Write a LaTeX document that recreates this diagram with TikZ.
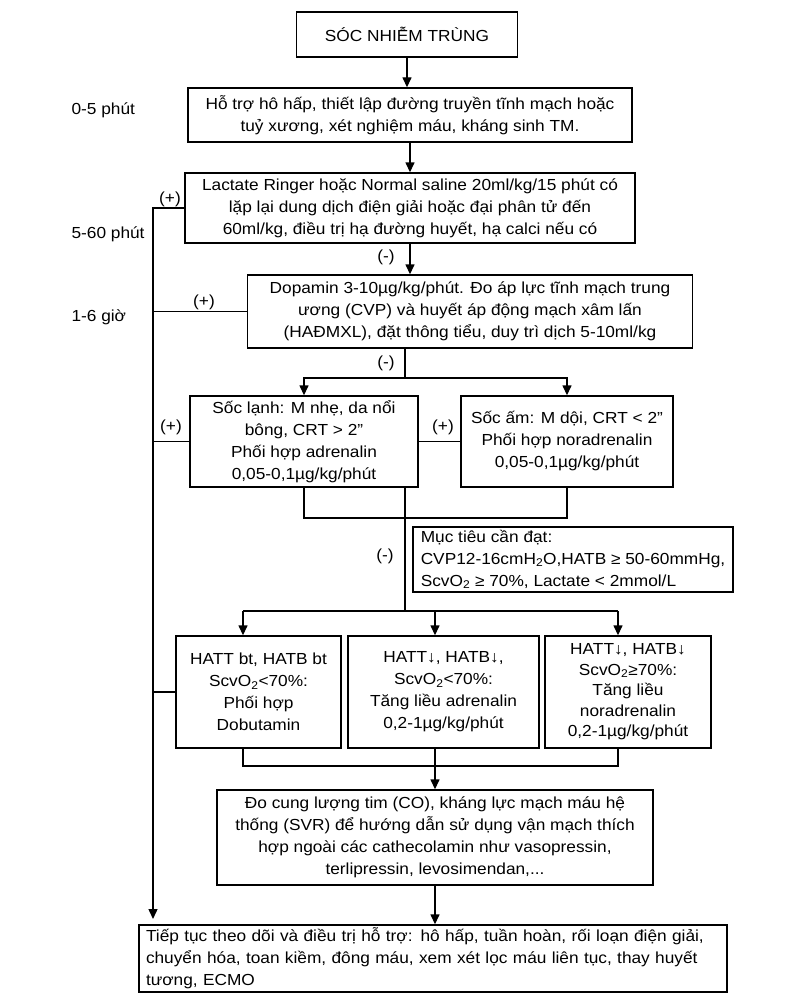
\documentclass[tikz,border=0pt]{standalone}
\usepackage{fontspec}
\setmainfont{Liberation Sans}[FakeStretch=1.08]
\usetikzlibrary{calc}
\usetikzlibrary{arrows.meta}

\begin{document}
\begin{tikzpicture}[x=1pt, y=-1pt,
        every node/.style={font=\fontsize{16}{22}\selectfont},
        box/.style={rectangle, draw=black, line width=1.4pt, align=center, inner sep=0pt},
        arr/.style={line width=1.4pt, -{Triangle[length=10pt, width=9pt]}},
        link/.style={line width=1.4pt}]
    \useasboundingbox (0, 0) rectangle (797, 1006);

    % boxes
    \node[box, minimum width=221, minimum height=45] (sepsis) at (407, 34.5) {SÓC NHIỄM TRÙNG};
    \node[box, minimum width=444, minimum height=54] (support) at (410, 115)
        {Hỗ trợ hô hấp, thiết lập đường truyền tĩnh mạch hoặc\\tuỷ xương, xét nghiệm máu, kháng sinh TM.};
    \node[box, minimum width=450, minimum height=70] (fluid) at (410, 208)
        {Lactate Ringer hoặc Normal saline 20ml/kg/15 phút có\\lặp lại dung dịch điện giải hoặc đại phân tử đến\\60ml/kg, điều trị hạ đường huyết, hạ calci nếu có};
    \node[box, minimum width=445, minimum height=73] (dopamin) at (470, 311.5)
        {Dopamin 3-10µg/kg/phút. Đo áp lực tĩnh mạch trung\\ương (CVP) và huyết áp động mạch xâm lấn\\(HAĐMXL), đặt thông tiểu, duy trì dịch 5-10ml/kg};
    \node[box, minimum width=228, minimum height=91] (cold) at (304, 441.5)
        {Sốc lạnh: M nhẹ, da nổi\\bông, CRT > 2”\\Phối hợp adrenalin\\0,05-0,1µg/kg/phút};
    \node[box, minimum width=212, minimum height=91] (warm) at (567, 441.5)
        {Sốc ấm: M dội, CRT < 2”\\Phối hợp noradrenalin\\0,05-0,1µg/kg/phút};
    \node[box, align=left, minimum width=320, minimum height=65] (target) at (573, 559.5)
        {Mục tiêu cần đạt:\\CVP12-16cmH\textsubscript{2}O,HATB ≥ 50-60mmHg,\\ScvO\textsubscript{2} ≥ 70\%, Lactate < 2mmol/L};
    \node[box, minimum width=165, minimum height=112] (dobut) at (258.5, 692)
        {HATT bt, HATB bt\\ScvO\textsubscript{2}<70\%:\\Phối hợp\\Dobutamin};
    \node[box, minimum width=191, minimum height=112] (adren) at (443.5, 692)
        {HATT↓, HATB↓,\\ScvO\textsubscript{2}<70\%:\\Tăng liều adrenalin\\0,2-1µg/kg/phút};
    \node[box, minimum width=166, minimum height=112, font=\fontsize{16}{20.5}\selectfont] (noradr) at (628, 692)
        {HATT↓, HATB↓\\ScvO\textsubscript{2}≥70\%:\\Tăng liều\\noradrenalin\\0,2-1µg/kg/phút};
    \node[box, minimum width=436, minimum height=95] (monitor) at (435, 837.5)
        {Đo cung lượng tim (CO), kháng lực mạch máu hệ\\thống (SVR) để hướng dẫn sử dụng vận mạch thích\\hợp ngoài các cathecolamin như vasopressin,\\terlipressin, levosimendan,...};
    \node[box, align=left, text width=574, inner xsep=7, minimum height=67] (final) at (433, 958.5)
        {\makebox[574pt][s]{Tiếp tục theo dõi và điều trị hỗ trợ: hô hấp, tuần hoàn, rối loạn điện giải,}\\
         \makebox[574pt][s]{chuyển hóa, toan kiềm, đông máu, xem xét lọc máu liên tục, thay huyết}\\
         tương, ECMO};

    % time labels
    \node[anchor=west] (t1) at (68, 110) {0-5 phút};
    \node[anchor=west] (t2) at (68, 234) {5-60 phút};
    \node[anchor=west] (t3) at (68, 317) {1-6 giờ};

    % signs
    \node (plus1) at (170, 199) {(+)};
    \node (plus2) at (204, 302) {(+)};
    \node (plus3) at (171, 427) {(+)};
    \node (plus4) at (443, 427) {(+)};
    \node (minus1) at (386, 257) {(-)};
    \node (minus2) at (386, 363) {(-)};
    \node (minus3) at (385, 556) {(-)};

    \coordinate (split1) at (405, 378);
    \coordinate (merge1) at (405, 518);
    \coordinate (split2) at (405, 611);
    \coordinate (c1) at (243, 611);
    \coordinate (c2) at (435, 766);
    \coordinate (c3) at (618, 611);
    \coordinate (railend) at (153, 919);

    % main line
    \draw[arr] (sepsis.south) -- (sepsis.south |- support.north);
    \draw[arr] (support.south) -- (support.south |- fluid.north);
    \draw[arr] (fluid.south) -- (fluid.south |- dopamin.north);
    \draw[link] (split1 |- dopamin.south) -- (split1);
    \draw[arr] (split1) -| (cold.north);
    \draw[arr] (split1) -| (warm.north);
    \draw[link] (cold.south) |- (merge1) -| (warm.south);
    \draw[link] (split2 |- cold.south) -- (split2);
    \draw[link] (c1) -- (c3);
    \foreach \c/\b in {c1/dobut, c2/adren, c3/noradr}
        \draw[arr] (\c |- split2) -- (\c |- \b.north);
    \draw[link] (c1 |- dobut.south) -- (c1 |- c2) -- (c3 |- c2) -- (c3 |- noradr.south);
    \draw[link] (c2 |- adren.south) -- (c2);
    \draw[arr] (c2) -- (c2 |- monitor.north);
    \draw[arr] (monitor.south) -- (monitor.south |- final.north);

    % left rail
    \draw[arr] (fluid.west) -- (fluid.west -| railend) -- (railend);
    \draw[link] (dopamin.west) -- (dopamin.west -| railend);
    \draw[link] (cold.west) -- (cold.west -| railend);
    \draw[link] (warm.west) -- (cold.east |- warm.west);
    \draw[link] (dobut.west) -- (dobut.west -| railend);
\end{tikzpicture}
\end{document}
